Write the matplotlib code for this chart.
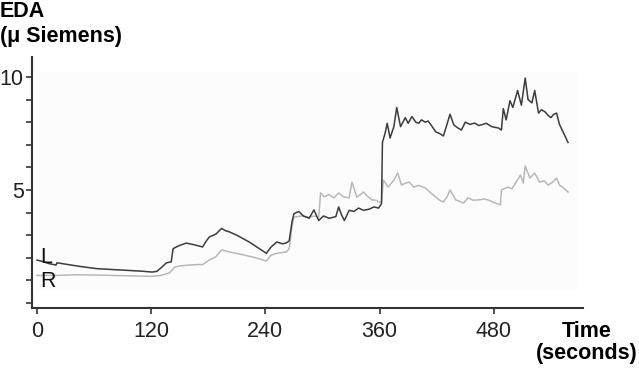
import numpy as np
import matplotlib
matplotlib.use("Agg")
import matplotlib.pyplot as plt
from matplotlib.patches import Rectangle

plt.rcParams['font.family'] = ['Liberation Sans', 'DejaVu Sans']

# =========================
# DATA
# =========================
left_t = [0, 5, 12, 20, 21, 30, 45, 63, 80, 97, 110, 121, 126, 131, 136, 141, 143,
          145, 150, 157, 165, 174, 178, 181, 188, 194, 198, 202, 210, 223, 232, 241,
          246, 252, 258, 262, 265, 268, 270, 275, 280, 286, 291, 296, 301, 307, 314,
          317, 320, 323, 328, 333, 338, 343, 349, 354, 359, 362, 363, 366, 368, 371,
          375, 378, 382, 387, 390, 394, 398, 401, 404, 408, 411, 414, 419, 423, 427,
          430, 434, 438, 442, 446, 450, 455, 460, 464, 467, 472, 478, 485, 488, 490,
          493, 497, 500, 505, 509, 513, 516, 520, 523, 527, 530, 534, 537, 540, 543,
          546, 549, 553, 558]
left_eda = [1.90, 1.85, 1.75, 1.68, 1.78, 1.72, 1.62, 1.52, 1.48, 1.44, 1.41, 1.37, 1.40,
            1.58, 1.78, 1.82, 2.40, 2.45, 2.55, 2.65, 2.58, 2.48, 2.75, 2.92, 3.05, 3.30,
            3.20, 3.15, 3.00, 2.70, 2.45, 2.20, 2.48, 2.70, 2.62, 2.66, 2.75, 3.60, 3.95,
            4.05, 3.85, 3.75, 4.12, 3.65, 3.85, 3.75, 3.82, 4.25, 3.90, 3.65, 4.10, 4.05,
            4.20, 4.10, 4.15, 4.25, 4.20, 4.40, 7.10, 7.55, 7.95, 7.30, 7.80, 8.65, 7.80,
            8.20, 7.95, 8.25, 8.00, 7.95, 8.10, 8.00, 8.05, 7.88, 7.57, 7.50, 7.39, 7.79,
            8.35, 7.88, 7.75, 7.65, 8.00, 7.90, 7.96, 7.85, 7.88, 7.95, 7.80, 7.74, 7.65,
            8.60, 8.10, 8.95, 8.65, 9.40, 8.75, 9.95, 9.00, 8.85, 9.40, 8.40, 8.55, 8.45,
            8.30, 8.20, 8.35, 8.40, 7.90, 7.55, 7.10]

right_t = [0, 20, 40, 60, 80, 100, 121, 130, 139, 145, 152, 160, 168, 174, 181, 188, 194,
           202, 215, 230, 241, 246, 252, 262, 265, 268, 270, 278, 286, 292, 296, 298,
           302, 307, 312, 317, 322, 328, 331, 336, 340, 343, 348, 352, 356, 359, 362,
           364, 369, 375, 379, 383, 387, 391, 396, 401, 408, 413, 419, 423, 427, 431,
           434, 440, 444, 448, 453, 458, 464, 470, 474, 480, 487, 488, 495, 499, 503,
           508, 511, 513, 518, 523, 528, 533, 537, 542, 546, 549, 553, 558]
right_eda = [1.22, 1.22, 1.25, 1.24, 1.22, 1.20, 1.18, 1.22, 1.33, 1.60, 1.65, 1.68, 1.70,
             1.70, 1.90, 2.05, 2.35, 2.26, 2.15, 2.00, 1.86, 2.12, 2.20, 2.26, 2.40, 3.40,
             3.80, 3.85, 3.80, 3.85, 3.80, 4.87, 4.70, 4.80, 4.65, 4.87, 4.70, 4.65, 5.35,
             4.69, 4.80, 4.91, 4.70, 4.56, 4.55, 4.47, 4.47, 5.44, 5.13, 5.44, 5.75, 5.22,
             5.30, 5.35, 5.13, 5.20, 5.09, 4.90, 4.69, 4.55, 4.47, 4.70, 5.00, 4.56, 4.50,
             4.42, 4.65, 4.55, 4.56, 4.60, 4.56, 4.45, 4.34, 5.00, 5.13, 5.05, 5.31, 5.66,
             5.31, 6.06, 5.53, 5.75, 5.35, 5.40, 5.22, 5.35, 5.53, 5.22, 5.10, 4.91]

x_ticks = [0, 120, 240, 360, 480]
y_ticks = list(range(0, 11))
y_labels = ['' if v not in (5, 10) else str(v) for v in y_ticks]

FS = 15.5

# =========================
# PLOT
# =========================
fig = plt.figure(figsize=(6.39, 3.68), dpi=100)
ax = fig.add_axes([0.050, 0.163, 0.862, 0.682])

# very faint grey plotting panel behind the traces
ax.add_patch(Rectangle((0, 0.58), 568, 9.62, facecolor='#fcfcfc', edgecolor='none', zorder=0))

ax.plot(right_t, right_eda, color='#b8b8b8', lw=1.1)
ax.plot(left_t, left_eda, color='#3c3c3c', lw=1.1)

ax.text(3, 1.77, 'L', fontsize=FS, color='#111111', ha='left', va='baseline')
ax.text(3, 0.71, 'R', fontsize=FS, color='#111111', ha='left', va='baseline')

ax.set_xlim(-5.3, 573.5)
ax.set_ylim(-0.22, 10.88)
ax.set_xticks(x_ticks)
ax.set_yticks(y_ticks)
ax.set_yticklabels(y_labels)
ax.tick_params(axis='both', labelsize=FS, color='#333333', length=4, width=1.2,
               labelcolor='#222222')
ax.tick_params(axis='x', pad=5)
ax.tick_params(axis='y', pad=2)

for s in ['top', 'right']:
    ax.spines[s].set_visible(False)
for s in ['left', 'bottom']:
    ax.spines[s].set_color('#333333')
    ax.spines[s].set_linewidth(1.5)

fig.text(0.0, 0.998, 'EDA', fontsize=FS, fontweight='bold', ha='left', va='top')
fig.text(0.0, 0.93, '(μ Siemens)', fontsize=FS, fontweight='bold', ha='left', va='top')
fig.text(0.918, 0.128, 'Time', fontsize=FS, fontweight='bold', ha='center', va='top')
fig.text(0.918, 0.068, '(seconds)', fontsize=FS, fontweight='bold', ha='center', va='top')

fig.savefig('out.png', dpi=100)
